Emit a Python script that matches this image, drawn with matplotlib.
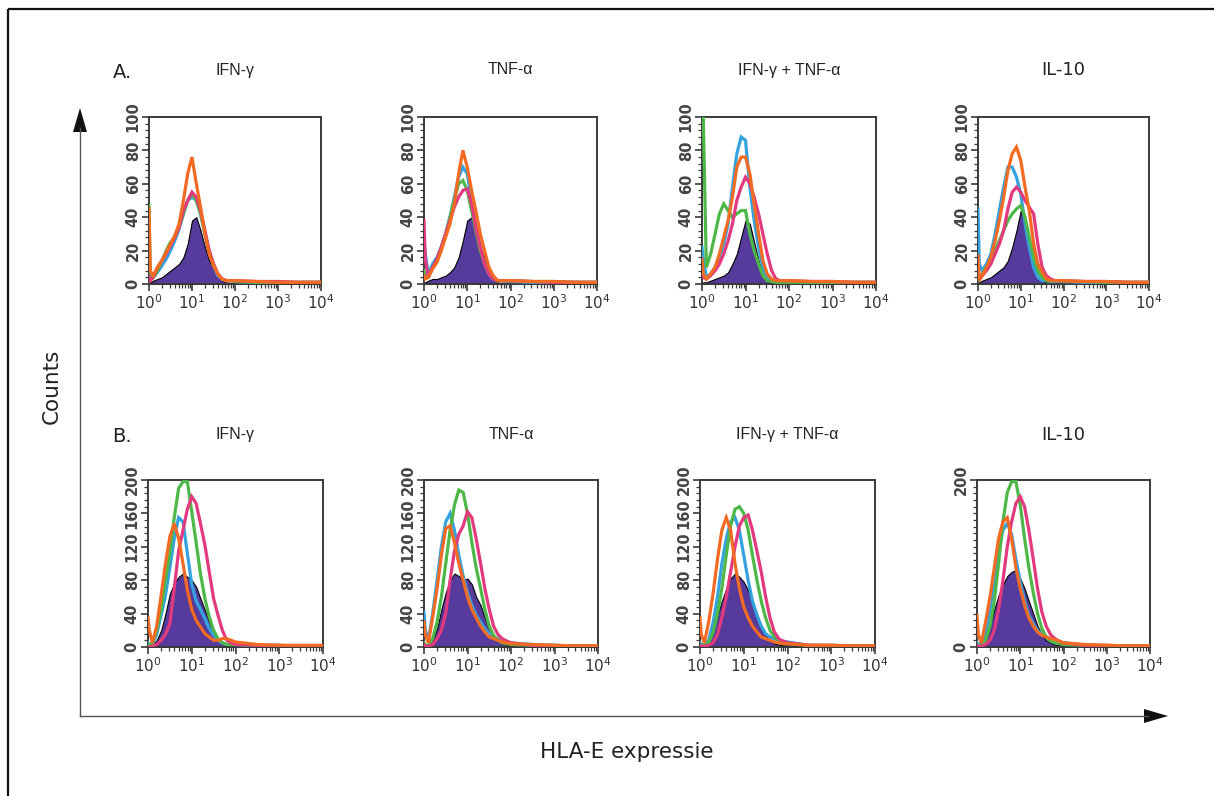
import matplotlib
matplotlib.use("Agg")
import matplotlib.pyplot as plt
from matplotlib.ticker import LogLocator, MultipleLocator, FixedLocator, NullFormatter
from matplotlib import font_manager

# ---------------- data ----------------
# fluorescence channel positions (log scale, 10^0 .. 10^4)
FL = [1, 1.07, 1.26, 1.58, 2.0, 2.51, 3.16, 3.98, 5.01, 6.31, 7.94, 10, 12.6, 15.8,
      20.0, 25.1, 31.6, 39.8, 50.1, 63.1, 79.4, 100, 316, 1000, 3162, 10000]

ROW_LABELS = ["A.", "B."]
TITLES = ["IFN-\u03b3", "TNF-\u03b1", "IFN-\u03b3 + TNF-\u03b1", "IL-10"]
A_YTICKS = [0, 20, 40, 60, 80, 100]
B_YTICKS = [0, 40, 80, 120, 160, 200]
B4_YTICKS = [0, 200]
XTICKS = [1, 10, 100, 1000, 10000]
XTICK_LABELS = ["$10^0$", "$10^1$", "$10^2$", "$10^3$", "$10^4$"]

# Row A : IFN-gamma
A1_fill   = [0,1,2,3,4,6,8,10,12,16,24,38,40,32,22,14,9,5,2,1,0.5,0,0,0,0,0]
A1_blue   = [10,5,4,7,11,15,20,26,33,42,50,52,50,42,30,19,11,5,3,2,2,1.5,1,1,1,1]
A1_green  = [47,6,4,8,14,20,25,28,34,42,50,54,50,42,30,20,12,6,3,2,2,1.5,1,1,1,1]
A1_pink   = [5,2,4,10,14,18,23,28,34,44,50,55,52,44,32,20,12,6,3,2,2,2,1.5,1.5,1,1]
A1_orange = [45,8,5,10,14,19,24,29,36,50,66,76,60,46,30,18,11,6,3,2,2,2,1.5,1,1,1]
# Row A : TNF-alpha
A2_fill   = [0,1,2,3,3,4,5,7,10,16,26,38,40,30,22,16,8,4,1,0.5,0,0,0,0,0,0]
A2_blue   = [24,18,6,12,16,22,30,40,52,64,70,66,50,34,22,12,6,3,2,2,1.5,1.5,1,1,1,1]
A2_green  = [8,4,4,10,15,22,30,40,50,60,62,56,44,32,20,12,6,3,2,2,2,2,1.5,1.5,1,1]
A2_pink   = [38,15,4,10,15,22,30,38,46,52,56,57,48,34,22,12,6,3,2,2,2,2,1.5,1,1,1]
A2_orange = [5,3,4,9,13,20,28,36,48,66,80,70,56,44,30,20,10,5,2,2,2,2,1.5,1.5,1,1]
# Row A : IFN-gamma + TNF-alpha
A3_fill   = [0,1,1,2,3,4,5,7,12,18,28,38,36,25,14,6,2,1,0.5,0,0,0,0,0,0,0]
A3_blue   = [22,15,4,6,10,16,24,36,58,78,88,86,58,38,22,10,4,2,2,1.5,1.5,1.5,1,1,1,1]
A3_green  = [100,100,10,18,30,42,48,44,40,42,44,44,30,20,12,5,2,1.5,1,1,1,1,1,1,1,1]
A3_pink   = [8,4,3,5,8,12,18,26,36,50,58,64,60,52,42,30,18,8,3,2,2,2,1.5,1.5,1,1]
A3_orange = [15,6,3,6,10,18,28,38,52,70,76,76,66,48,30,14,6,3,2,2,2,2,1.5,1.5,1,1]
# Row A : IL-10
A4_fill   = [0,1,2,3,4,6,8,10,14,22,32,44,34,20,12,5,2,1,0.5,0,0,0,0,0,0,0]
A4_blue   = [45,12,8,12,18,30,44,58,70,70,64,54,36,22,10,4,2,2,1.5,1.5,1.5,1.5,1,1,1,1]
A4_green  = [5,3,6,10,14,20,26,32,38,42,45,47,40,28,16,8,4,2,2,2,2,1.5,1.5,1,1,1]
A4_pink   = [10,4,5,8,12,18,24,32,45,55,58,55,50,46,42,24,10,5,3,2,2,2,1.5,1.5,1,1]
A4_orange = [17,2,5,10,16,26,38,52,68,78,82,74,58,44,24,12,7,3,2,2,2,2,1.5,1.5,1,1]

# Row B : IFN-gamma
B1_fill   = [0,0,2,8,20,40,64,76,84,88,84,80,72,58,44,30,18,10,5,3,2,2,1,1,0,0]
B1_blue   = [5,3,3,15,38,62,95,130,155,150,112,75,55,45,34,22,14,8,5,3,3,3,2,1.5,1,1]
B1_green  = [3,2,5,20,45,80,112,155,190,198,198,162,125,88,58,36,20,10,5,3,3,3,2,2,1,1]
B1_pink   = [0,0,1,3,8,15,28,70,115,140,165,180,172,148,122,90,58,38,20,8,5,3,2,2,1,1]
B1_orange = [35,20,5,25,62,100,132,148,130,100,68,45,32,24,16,12,8,8,10,10,8,6,3,2,2,2]
# Row B : TNF-alpha
B2_fill   = [0,0,2,8,22,45,65,80,88,85,80,82,75,60,50,35,22,12,7,4,3,2,1,1,0,0]
B2_blue   = [42,20,8,40,80,120,150,160,140,110,85,65,50,38,30,22,16,12,10,8,7,5,3,2,1,1]
B2_green  = [5,2,2,10,30,60,100,140,170,188,185,160,125,95,70,45,25,14,8,5,4,3,2,2,1,1]
B2_pink   = [3,1,1,3,10,20,40,80,115,135,145,162,155,130,100,70,45,25,15,10,7,5,2,2,1,1]
B2_orange = [30,15,5,35,70,110,142,145,125,100,80,60,45,35,25,18,12,10,8,6,5,4,3,2,1.5,1.5]
# Row B : IFN-gamma + TNF-alpha
B3_fill   = [0,0,2,8,20,38,55,70,82,88,84,78,68,55,40,25,15,8,4,3,2,2,1,1,0,0]
B3_blue   = [5,3,3,8,30,60,100,130,150,155,140,110,80,55,38,25,16,12,10,8,7,6,2,1.5,1,1]
B3_green  = [3,2,2,5,18,40,70,110,145,165,168,160,140,110,80,55,35,20,12,8,6,4,2,2,1,1]
B3_pink   = [2,1,1,2,5,15,35,60,90,120,145,155,158,140,115,90,60,35,18,10,7,5,2,2,1,1]
B3_orange = [35,15,5,30,65,105,140,155,140,100,70,48,35,25,18,12,10,8,6,5,4,4,2,2,1.5,1.5]
# Row B : IL-10
B4_fill   = [0,0,2,10,25,45,62,75,85,90,92,82,70,55,40,25,15,8,5,3,2,2,1,1,0,0]
B4_blue   = [5,3,4,15,45,80,115,140,148,135,105,78,55,38,28,20,15,12,10,9,7,5,2,1.5,1,1]
B4_green  = [3,2,2,8,25,55,100,150,185,198,198,170,130,95,65,40,22,12,7,5,4,3,2,2,1,1]
B4_pink   = [2,1,1,3,8,20,45,80,120,150,172,180,168,140,105,70,42,25,15,10,7,5,2,2,1,1]
B4_orange = [38,15,5,30,60,95,130,150,155,130,95,70,50,35,25,18,14,12,10,9,7,5,3,2,1.5,1.5]

PANELS = [
    [(A1_fill, A1_blue, A1_green, A1_pink, A1_orange),
     (A2_fill, A2_blue, A2_green, A2_pink, A2_orange),
     (A3_fill, A3_blue, A3_green, A3_pink, A3_orange),
     (A4_fill, A4_blue, A4_green, A4_pink, A4_orange)],
    [(B1_fill, B1_blue, B1_green, B1_pink, B1_orange),
     (B2_fill, B2_blue, B2_green, B2_pink, B2_orange),
     (B3_fill, B3_blue, B3_green, B3_pink, B3_orange),
     (B4_fill, B4_blue, B4_green, B4_pink, B4_orange)],
]

# ---------------- styling ----------------
W, H = 1214, 796
C_FILL = "#563a9c"
C_BLUE = "#35a2e0"
C_GREEN = "#4db848"
C_PINK = "#e2397f"
C_ORANGE = "#f36a22"
AX_COL = "#3a3a3a"

avail = {f.name for f in font_manager.fontManager.ttflist}
NARROW = "Liberation Sans Narrow" if "Liberation Sans Narrow" in avail else "Liberation Sans"

fig = plt.figure(figsize=(W / 100, H / 100), dpi=100)

# panel boxes in pixel coords
ROW_BOX = [(117, 284), (480, 647)]
COL_BOX = [[(149, 321), (424, 597), (702, 876), (978, 1149)],
           [(148, 323), (424, 598), (700, 875), (977, 1150)]]

def px_rect(l, t, r, b):
    return [l / W, 1 - b / H, (r - l) / W, (b - t) / H]

for ri in range(2):
    t, b = ROW_BOX[ri]
    for ci in range(4):
        l, r = COL_BOX[ri][ci]
        ax = fig.add_axes(px_rect(l, t, r, b))
        fill, blue, green, pink, orange = PANELS[ri][ci]
        ax.fill_between(FL, fill, 0, facecolor=C_FILL, edgecolor="black", lw=0.8, zorder=2)
        for ser, col in ((blue, C_BLUE), (green, C_GREEN), (pink, C_PINK), (orange, C_ORANGE)):
            ax.plot(FL, ser, color=col, lw=2.3, solid_joinstyle="miter", zorder=3)
        ax.set_xscale("log")
        ax.set_xlim(1, 10000)
        ax.set_ylim(0, 100 if ri == 0 else 200)
        ax.xaxis.set_major_locator(FixedLocator(XTICKS))
        ax.set_xticklabels(XTICK_LABELS)
        ax.xaxis.set_minor_locator(LogLocator(base=10, subs=range(2, 10), numticks=20))
        ax.xaxis.set_minor_formatter(NullFormatter())
        if ri == 0:
            ax.set_yticks(A_YTICKS)
            ax.yaxis.set_minor_locator(MultipleLocator(4))
        else:
            ax.set_yticks(B4_YTICKS if ci == 3 else B_YTICKS)
            ax.yaxis.set_minor_locator(MultipleLocator(8))
        ax.tick_params(which="major", length=5, width=1.2, color=AX_COL, direction="out", pad=2)
        ax.tick_params(which="minor", length=3, width=0.9, color=AX_COL, direction="out")
        ax.tick_params(axis="x", labelsize=11, labelcolor="#333333")
        ax.tick_params(axis="y", labelsize=10.5, labelcolor="#444444", labelrotation=90, pad=1)
        for lab in ax.get_yticklabels():
            lab.set_va("center")
            lab.set_fontweight("bold")
        for sp in ax.spines.values():
            sp.set_color(AX_COL)
            sp.set_linewidth(1.4)
        cx = (l + r) / 2
        ty = 70 if ri == 0 else 435
        if ci == 3:
            fig.text(cx / W, 1 - ty / H, TITLES[ci], ha="center", va="center",
                     fontsize=13, family="DejaVu Sans", color="#222222")
        else:
            fig.text(cx / W, 1 - ty / H, TITLES[ci], ha="center", va="center",
                     fontsize=11.5, family=[NARROW, "DejaVu Sans"], color="#222222")
    fig.text(122 / W, 1 - (73 if ri == 0 else 437) / H, ROW_LABELS[ri], ha="center",
             va="center", fontsize=14, family="DejaVu Sans", color="#222222")

# overlay in pixel coordinates for frame, arrows and axis titles
ov = fig.add_axes([0, 0, 1, 1])
ov.set_xlim(0, W)
ov.set_ylim(H, 0)
ov.axis("off")
ov.patch.set_alpha(0)
ov.plot([8, W], [9, 9], color="#111111", lw=1.6, solid_capstyle="butt")
ov.plot([8, 8], [9, H], color="#111111", lw=1.6, solid_capstyle="butt")
ov.plot([80, 80], [128, 716], color="#555555", lw=1.0)
ov.plot([80, 1148], [716, 716], color="#555555", lw=1.0)
ov.fill([73, 87, 80], [132, 132, 108], color="#111111", lw=0)
ov.fill([1144, 1144, 1168], [709, 723, 716], color="#111111", lw=0)

fig.text(52 / W, 1 - 386 / H, "Counts", rotation=90, ha="center", va="center",
         fontsize=15.5, family="DejaVu Sans", color="#222222")
fig.text(627 / W, 1 - 752 / H, "HLA-E expressie", ha="center", va="center",
         fontsize=15.5, family="DejaVu Sans", color="#222222")

fig.savefig("out.png", dpi=100, facecolor="white")
